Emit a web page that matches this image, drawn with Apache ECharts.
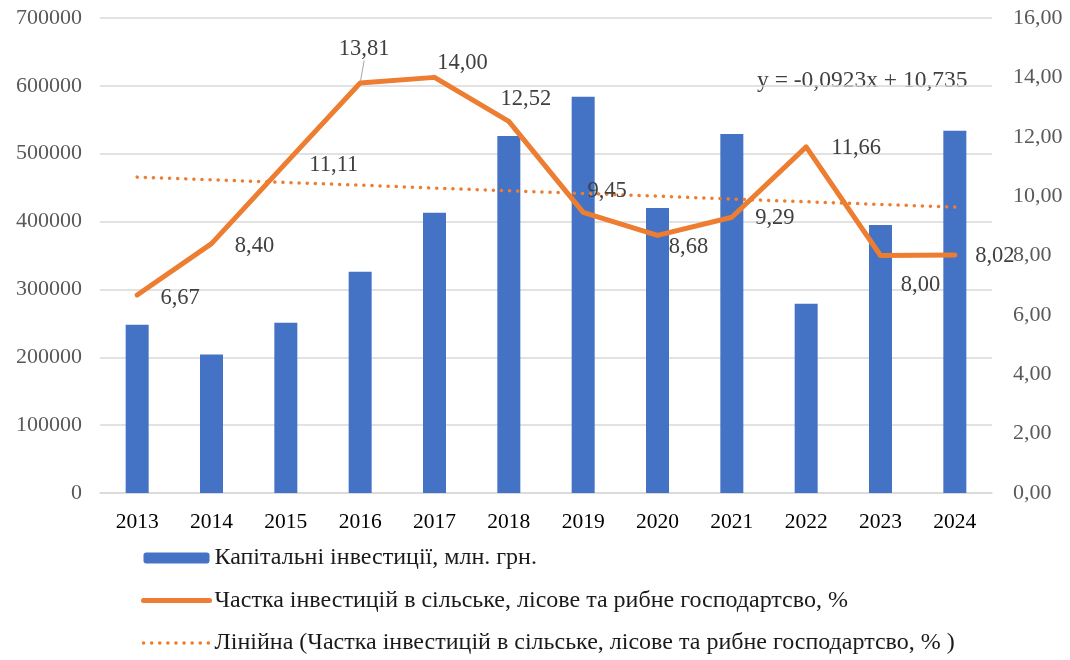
<!DOCTYPE html>
<html lang="uk">
<head>
<meta charset="UTF-8">
<title>Капітальні інвестиції</title>
<style>
html, body { margin: 0; padding: 0; background: #fff; }
#chart { width: 1070px; height: 660px; }
</style>
</head>
<body>
<div id="chart"></div>
<script src="https://cdn.jsdelivr.net/npm/echarts@6/dist/echarts.min.js"></script>
<script>
var years = ['2013', '2014', '2015', '2016', '2017', '2018', '2019', '2020', '2021', '2022', '2023', '2024'];
var investments = [248000, 204000, 251000, 326000, 413000, 526000, 584000, 420000, 529000, 279000, 395000, 534000];
var sharePct = [6.67, 8.40, 11.11, 13.81, 14.00, 12.52, 9.45, 8.68, 9.29, 11.66, 8.00, 8.02];
var trendPct = [10.64, 10.55, 10.46, 10.37, 10.27, 10.18, 10.09, 10.00, 9.90, 9.81, 9.72, 9.63];
var trendText = 'y = -0,0923x + 10,735';

var nameBars = 'Капітальні інвестиції, млн. грн.';
var nameShare = 'Частка інвестицій в сільське, лісове та рибне господартсво, %';
var nameTrend = 'Лінійна (Частка інвестицій в сільське, лісове та рибне господартсво, % )';

// where Excel put each data label, relative to its point
var labelShift = [[43, 3], [43, 2], [48, 2], [4, -34], [28, -14], [17, -22],
                  [24, -21], [31, 12], [43, 1], [50, 1], [40, 30], [40, 1]];

var font = '"Liberation Serif", "Times New Roman", serif';
var orange = '#ED7D31';

function comma(v) {
    return v.toFixed(2).replace('.', ',');
}

var chart = echarts.init(document.getElementById('chart'));
chart.setOption({
    animation: false,
    textStyle: { fontFamily: font },
    grid: { left: 100, right: 78, top: 18, bottom: 167 },
    legend: {
        orient: 'vertical',
        left: 141,
        top: 546,
        padding: 0,
        itemWidth: 66,
        itemHeight: 11,
        itemGap: 18.5,
        textStyle: { fontFamily: font, fontSize: 24, color: '#1a1a1a' },
        data: [
            { name: nameBars },
            { name: nameShare, itemStyle: { opacity: 0 }, lineStyle: { width: 5, cap: 'round' } },
            { name: nameTrend, itemStyle: { opacity: 0 }, lineStyle: { width: 3.5, type: [0.1, 8], cap: 'round' } }
        ]
    },
    xAxis: {
        type: 'category',
        data: years,
        axisTick: { show: false },
        axisLine: { lineStyle: { color: '#d9d9d9', width: 1.5 } },
        axisLabel: { fontFamily: font, fontSize: 21.5, color: '#000', margin: 18 }
    },
    yAxis: [
        {
            type: 'value',
            min: 0, max: 700000, interval: 100000,
            axisLine: { show: false },
            axisTick: { show: false },
            splitLine: { lineStyle: { color: '#d9d9d9', width: 1.5 } },
            axisLabel: {
                fontFamily: font, fontSize: 22, color: '#595959', margin: 18,
                formatter: function (v) { return String(v); }
            }
        },
        {
            type: 'value',
            min: 0, max: 16, interval: 2,
            axisLine: { show: false },
            axisTick: { show: false },
            splitLine: { show: false },
            axisLabel: { fontFamily: font, fontSize: 22, color: '#595959', margin: 21, formatter: comma }
        }
    ],
    graphic: [{
        type: 'text',
        left: 757,
        top: 69,
        style: { text: trendText, font: '23.5px ' + font, fill: '#404040' }
    }],
    series: [
        {
            name: nameBars,
            type: 'bar',
            barWidth: 23,
            itemStyle: { color: '#4472C4' },
            data: investments
        },
        {
            name: nameShare,
            type: 'line',
            yAxisIndex: 1,
            symbol: 'circle',
            symbolSize: 3,
            itemStyle: { color: orange },
            lineStyle: { color: orange, width: 5, cap: 'round', join: 'round' },
            label: {
                show: true,
                position: 'inside',
                fontFamily: font,
                fontSize: 22.5,
                color: '#404040',
                formatter: function (p) { return comma(p.value); }
            },
            labelLayout: function (p) {
                var s = labelShift[p.dataIndex];
                return { dx: s[0], dy: s[1] };
            },
            labelLine: { show: false, lineStyle: { color: '#a6a6a6', width: 1 } },
            data: sharePct.map(function (v, i) {
                return i === 3 ? { value: v, labelLine: { show: true } } : v;
            }),
            z: 5
        },
        {
            name: nameTrend,
            type: 'line',
            yAxisIndex: 1,
            symbol: 'none',
            itemStyle: { color: orange },
            lineStyle: { color: orange, width: 3.5, type: [0.1, 8], cap: 'round' },
            data: trendPct,
            z: 4
        }
    ]
});
</script>
</body>
</html>
